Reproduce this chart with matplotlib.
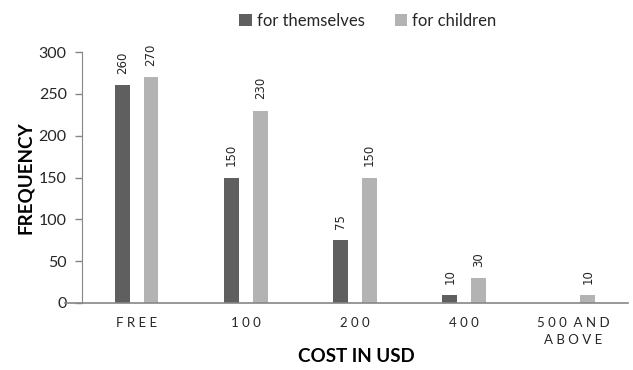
import matplotlib
matplotlib.use("Agg")
import matplotlib.pyplot as plt
from matplotlib.patches import Patch
from matplotlib.lines import Line2D
import numpy as np

categories = ["F R E E", "1 0 0", "2 0 0", "4 0 0", "5 0 0  A N D\nA B O V E"]
for_themselves = [260, 150, 75, 10, 0]
for_children = [270, 230, 150, 30, 10]
series_names = ["for themselves", "for children"]
y_ticks = [0, 50, 100, 150, 200, 250, 300]

dark = "#5f5f5f"
light = "#b3b3b3"
axis_gray = "#868686"
text_col = "#262626"

fig = plt.figure(figsize=(6.33, 3.70), dpi=100)
ax = fig.add_axes([82 / 633, 1 - 303 / 370, 546 / 633, 251 / 370])

x = np.arange(len(categories))
w = 0.137
off = 0.132
b1 = ax.bar(x - off, for_themselves, w, color=dark)
b2 = ax.bar(x + off, for_children, w, color=light)

for bars, vals in ((b1, for_themselves), (b2, for_children)):
    for rect, v in zip(bars, vals):
        if v == 0:
            continue
        ax.annotate(str(v), (rect.get_x() + rect.get_width() / 2, v),
                    xytext=(0, 8), textcoords="offset points",
                    rotation=90, ha="center", va="bottom",
                    fontsize=8.5, color=text_col, family="DejaVu Sans")

ax.set_xlim(-0.5, len(categories) - 0.5)
ax.set_ylim(0, 300)
ax.set_yticks(y_ticks)
ax.set_xticks(x)
ax.set_xticklabels(categories, fontsize=9.5, family="Lato", color=text_col,
                   linespacing=1.5)
ax.tick_params(axis="x", length=0, pad=10)
ax.tick_params(axis="y", length=5, width=1, color=axis_gray, pad=6,
               labelsize=11.5, labelcolor=text_col)
for lbl in ax.get_yticklabels():
    lbl.set_family("Lato")

for s in ("top", "right"):
    ax.spines[s].set_visible(False)
ax.spines["left"].set_color(axis_gray)
ax.spines["bottom"].set_visible(False)
ax.add_line(Line2D([-0.031, 1.0], [0, 0], transform=ax.transAxes,
                   color=axis_gray, lw=1.2, clip_on=False))

ax.set_ylabel("FREQUENCY", fontsize=13.5, fontweight="bold", family="Lato",
              color="black", labelpad=3)
fig.text(356 / 633, 1 - 357 / 370, "COST IN USD", fontsize=13.5,
         fontweight="bold", family="Lato", color="black",
         ha="center", va="center")

handles = [Patch(facecolor=dark, label=series_names[0]),
           Patch(facecolor=light, label=series_names[1])]
fig.legend(handles=handles, loc="center", bbox_to_anchor=(368 / 633, 1 - 21 / 370),
           ncol=2, frameon=False, prop={"family": "Lato", "size": 12},
           handlelength=0.75, handleheight=0.75, handletextpad=0.3,
           columnspacing=1.8, labelcolor=text_col)

fig.savefig("out.png", dpi=100)
